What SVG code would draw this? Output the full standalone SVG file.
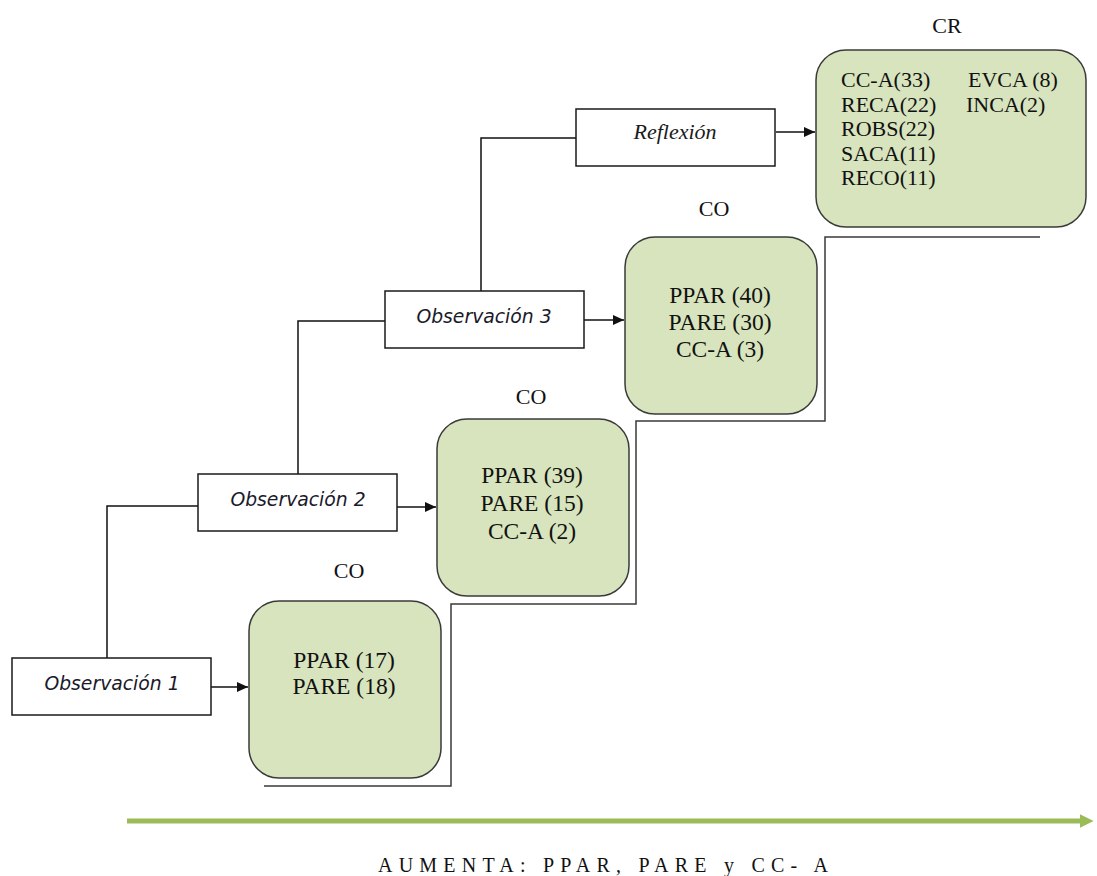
<svg xmlns="http://www.w3.org/2000/svg" width="1097" height="876" viewBox="0 0 1097 876">
  <style>
    .step { fill: #ffffff; stroke: #1a1a1a; stroke-width: 1.5; }
    .obs { font-family: "DejaVu Sans", Verdana, sans-serif; font-style: italic; font-size: 18.8px; fill: #1a1a2a; text-anchor: middle; }
    .refl { font-family: "Liberation Serif", "Times New Roman", serif; font-style: italic; font-size: 22px; fill: #1a1a1a; text-anchor: middle; }
    .card { fill: #d7e4bd; stroke: #3a3a3a; stroke-width: 1.5; }
    .val { font-family: "Liberation Serif", "Times New Roman", serif; font-size: 23.5px; fill: #111111; text-anchor: middle; }
    .crval { font-family: "Liberation Serif", "Times New Roman", serif; font-size: 22px; fill: #111111; }
    .tag { font-family: "Liberation Serif", "Times New Roman", serif; font-size: 22px; fill: #111111; text-anchor: middle; }
    .wire { fill: none; stroke: #111111; stroke-width: 1.5; }
    .stair { fill: none; stroke: #3a3a3a; stroke-width: 1.5; }
    .trend-label { font-family: "Liberation Serif", "Times New Roman", serif; font-size: 20px; fill: #111111; }
  </style>
  <defs>
    <marker id="head" viewBox="0 0 10 10" refX="10" refY="5" markerWidth="12" markerHeight="11" markerUnits="userSpaceOnUse" orient="auto">
      <path d="M0,0.5 L10,5 L0,9.5 Z" fill="#111111"/>
    </marker>
    <marker id="greenHead" viewBox="0 0 10 10" refX="6" refY="5" markerWidth="14" markerHeight="14" markerUnits="userSpaceOnUse" orient="auto">
      <path d="M0,0 L10,5 L0,10 Z" fill="#9bbb59"/>
    </marker>
  </defs>

  <g id="connectors">
    <!-- links climbing from each observation to the next step -->
    <polyline class="wire" points="107,658 107,506 198,506"/>
    <polyline class="wire" points="298,474 298,321 385,321"/>
    <polyline class="wire" points="481,291 481,138 576,138"/>
    <!-- arrows into the result cards -->
    <line class="wire" x1="209" y1="687" x2="248" y2="687" marker-end="url(#head)"/>
    <line class="wire" x1="397" y1="507" x2="436" y2="507" marker-end="url(#head)"/>
    <line class="wire" x1="584" y1="320" x2="624" y2="320" marker-end="url(#head)"/>
    <line class="wire" x1="776" y1="132" x2="815" y2="132" marker-end="url(#head)"/>
    <!-- staircase outline behind the cards -->
    <polyline class="stair" points="264,786 451,786 451,604 636,604 636,421 825,421 825,237 1040,237"/>
  </g>

  <g id="obs1">
    <rect class="step" x="12" y="658" width="199" height="57"/>
    <text class="obs" x="112" y="690">Observación 1</text>
  </g>
  <g id="obs2">
    <rect class="step" x="198" y="474" width="199" height="57"/>
    <text class="obs" x="298" y="506">Observación 2</text>
  </g>
  <g id="obs3">
    <rect class="step" x="385" y="291" width="199" height="57"/>
    <text class="obs" x="484" y="323">Observación 3</text>
  </g>
  <g id="reflexion">
    <rect class="step" x="576" y="109" width="199" height="57"/>
    <text class="refl" x="675" y="139">Reflexión</text>
  </g>

  <g id="co1">
    <text class="tag" x="349" y="578">CO</text>
    <rect class="card" x="249" y="601" width="192" height="177" rx="30"/>
    <text class="val" x="344" y="668">PPAR (17)</text>
    <text class="val" x="344" y="694">PARE (18)</text>
  </g>
  <g id="co2">
    <text class="tag" x="531" y="404">CO</text>
    <rect class="card" x="437" y="419" width="192" height="177" rx="30"/>
    <text class="val" x="532" y="483">PPAR (39)</text>
    <text class="val" x="532" y="511">PARE (15)</text>
    <text class="val" x="532" y="539">CC-A (2)</text>
  </g>
  <g id="co3">
    <text class="tag" x="714" y="216">CO</text>
    <rect class="card" x="625" y="237" width="192" height="177" rx="30"/>
    <text class="val" x="720" y="303">PPAR (40)</text>
    <text class="val" x="720" y="330">PARE (30)</text>
    <text class="val" x="720" y="357">CC-A (3)</text>
  </g>
  <g id="cr">
    <text class="tag" x="947" y="33">CR</text>
    <rect class="card" x="816" y="50" width="270" height="177" rx="30"/>
    <text class="crval" x="841" y="87">CC-A(33)</text>
    <text class="crval" x="841" y="112">RECA(22)</text>
    <text class="crval" x="841" y="136">ROBS(22)</text>
    <text class="crval" x="841" y="161">SACA(11)</text>
    <text class="crval" x="841" y="185">RECO(11)</text>
    <text class="crval" x="968" y="87">EVCA (8)</text>
    <text class="crval" x="966" y="112">INCA(2)</text>
  </g>

  <g id="trend">
    <line x1="127" y1="821" x2="1088" y2="821" stroke="#9bbb59" stroke-width="5" marker-end="url(#greenHead)"/>
    <text class="trend-label" x="378" y="872" textLength="450" lengthAdjust="spacing">AUMENTA: PPAR, PARE y CC- A</text>
  </g>
</svg>
